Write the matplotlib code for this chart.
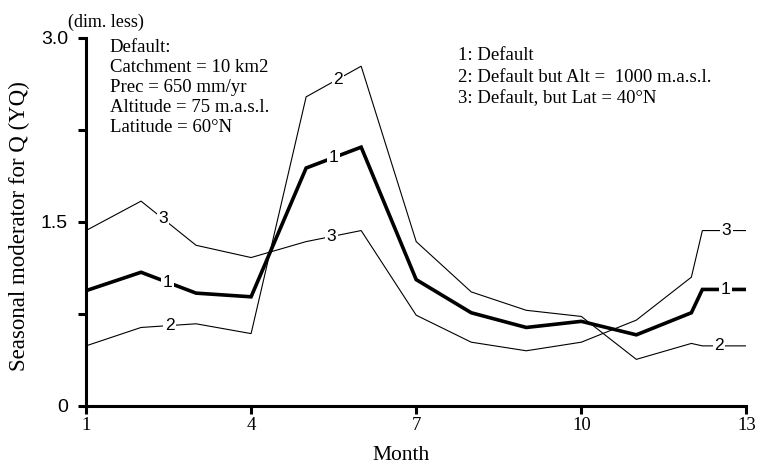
import matplotlib
matplotlib.use("Agg")
import matplotlib.pyplot as plt
import numpy as np

# monthly values (last point repeats January)
months = [1, 2, 3, 4, 5, 6, 7, 8, 9, 10, 11, 12, 12.2, 13]
q_default = [0.94, 1.09, 0.92, 0.89, 1.94, 2.11, 1.03, 0.76, 0.64, 0.69, 0.58, 0.76, 0.95, 0.95]
q_alt1000 = [0.49, 0.64, 0.67, 0.59, 2.52, 2.77, 1.34, 0.93, 0.78, 0.73, 0.38, 0.51, 0.49, 0.49]
q_lat40 = [1.43, 1.67, 1.31, 1.21, 1.34, 1.43, 0.74, 0.52, 0.45, 0.52, 0.70, 1.05, 1.43, 1.43]

# where the inline curve numbers sit along each line
label_x_1 = [2.48, 5.5, 12.62]
label_x_2 = [2.52, 5.58, 12.5]
label_x_3 = [2.4, 5.46, 12.64]

xticks = [1, 4, 7, 10, 13]
yticks = [0, 0.75, 1.5, 2.25, 3.0]
ytick_labels = ["0", "", "1.5", "", "3.0"]

serif = "Liberation Serif"
sans = "Liberation Sans"

fig = plt.figure(figsize=(7.57, 4.66), dpi=100)
ax = fig.add_axes([0.1136, 0.1288, 0.8724, 0.7897])

series = [
    (q_default, 2.6, "1", label_x_1),
    (q_alt1000, 0.8, "2", label_x_2),
    (q_lat40, 0.8, "3", label_x_3),
]
for vals, lw, name, lx in series:
    ax.plot(months, vals, color="black", lw=lw, solid_joinstyle="miter", zorder=2)
    for x in lx:
        y = np.interp(x, months, vals)
        ax.text(x, y, name, ha="center", va="center", fontsize=12.5, family=sans,
                bbox=dict(facecolor="white", edgecolor="none", pad=1.0), zorder=3)

ax.set_xlim(1, 13)
ax.set_ylim(0, 3.0)
ax.set_xticks(xticks)
ax.set_xticklabels([str(t) for t in xticks], family=serif, fontsize=13.5)
ax.set_yticks(yticks)
ax.set_yticklabels(ytick_labels, family=sans, fontsize=14)
ax.tick_params(length=6, width=2.2, direction="out")
ax.tick_params(axis="y", pad=7)
ax.tick_params(axis="x", pad=2)
for s in ["top", "right"]:
    ax.spines[s].set_visible(False)
for s in ["left", "bottom"]:
    ax.spines[s].set_linewidth(2.2)
ax.spines["bottom"].set_bounds(1, 13)

ax.set_xlabel("Month", family=serif, fontsize=15.5)
ax.xaxis.set_label_coords(0.477, -0.11)
ax.set_ylabel("Seasonal moderator for Q (YQ)", family=serif, fontsize=16.5)
ax.yaxis.set_label_coords(-0.085, 0.49)

fig.text(0.09, 0.953, "(dim. less)", family=serif, fontsize=13, va="center")

info = ["Default:", "Catchment = 10 km2", "Prec = 650 mm/yr",
        "Altitude = 75 m.a.s.l.", "Latitude = 60\u00b0N"]
for i, line in enumerate(info):
    fig.text(0.145, 1 - (47 + 20 * i) / 466, line, family=serif, fontsize=13.5, va="center")

legend_lines = ["1: Default", "2: Default but Alt =  1000 m.a.s.l.",
                "3: Default, but Lat = 40\u00b0N"]
for i, line in enumerate(legend_lines):
    fig.text(0.605, 1 - (55 + 22 * i) / 466, line, family=serif, fontsize=13.5, va="center")

fig.savefig("out.png", dpi=100)
